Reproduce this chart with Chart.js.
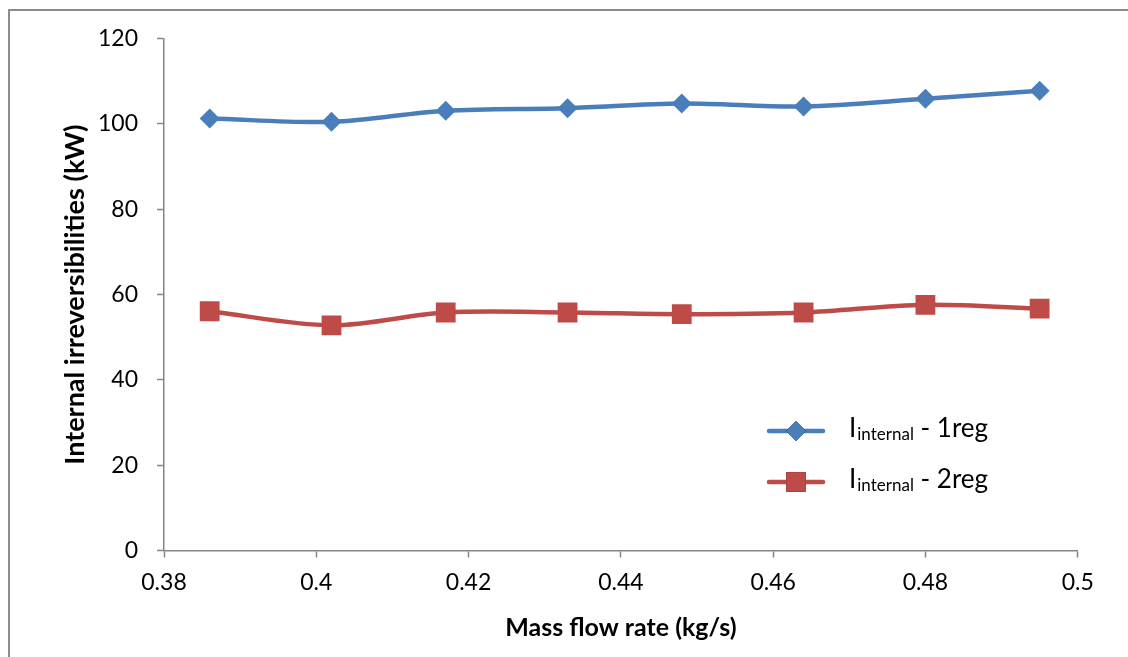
<!DOCTYPE html>
<html>
<head>
<meta charset="utf-8">
<title>Internal irreversibilities vs mass flow rate</title>
<script src="https://cdn.jsdelivr.net/npm/chart.js@4/dist/chart.umd.min.js"></script>
<style>
  html, body { margin: 0; padding: 0; background: #ffffff; }
  #wrap { position: relative; width: 1128px; height: 657px; }
</style>
</head>
<body>
<div id="wrap"><canvas id="chart" width="1128" height="657"></canvas></div>
<script>
// Mass flow rate (kg/s)
const massFlow = [0.386, 0.402, 0.417, 0.433, 0.448, 0.464, 0.480, 0.495];
// Internal irreversibilities (kW), one regenerator
const irr1reg = [101.3, 100.5, 103.1, 103.7, 104.8, 104.1, 105.9, 107.8];
// Internal irreversibilities (kW), two regenerators
const irr2reg = [56.1, 52.8, 55.8, 55.8, 55.4, 55.8, 57.6, 56.7];
// Axis tick values
const xTicks = [0.38, 0.40, 0.42, 0.44, 0.46, 0.48, 0.50];
const yTicks = [0, 20, 40, 60, 80, 100, 120];

const FONT = "Lato, 'Open Sans', 'DejaVu Sans', sans-serif";
const AXIS_GREY = '#868686';
const BLUE = '#4A7EBB';
const RED = '#BE4B48';

const toPoints = (ys) => massFlow.map((x, i) => ({ x, y: ys[i] }));

// Outer frame round the whole chart
const framePlugin = {
  id: 'frame',
  beforeDraw(chart) {
    const ctx = chart.ctx;
    ctx.save();
    ctx.fillStyle = '#ffffff';
    ctx.fillRect(0, 0, chart.width, chart.height);
    ctx.strokeStyle = '#8c8c8c';
    ctx.lineWidth = 2;
    ctx.strokeRect(9, 10, chart.width + 20, chart.height + 20);
    ctx.restore();
  }
};

// Legend with subscripted symbol, drawn inside the plot area
const subLegendPlugin = {
  id: 'subLegend',
  afterDraw(chart) {
    const ctx = chart.ctx;
    const x0 = 769, x1 = 823, textX = 849;
    const rows = [431, 482];
    chart.data.datasets.forEach((ds, i) => {
      const y = rows[i];
      ctx.save();
      ctx.strokeStyle = ds.borderColor;
      ctx.lineWidth = ds.borderWidth;
      ctx.lineCap = 'round';
      ctx.beginPath();
      ctx.moveTo(x0, y);
      ctx.lineTo(x1, y);
      ctx.stroke();
      Chart.helpers.drawPoint(ctx, {
        pointStyle: ds.pointStyle,
        radius: ds.pointRadius,
        borderWidth: 0
      }, (x0 + x1) / 2, y);
      ctx.fillStyle = ds.backgroundColor;
      ctx.fill();
      ctx.restore();

      const parts = ds.legendParts;
      ctx.save();
      ctx.fillStyle = '#000000';
      ctx.textBaseline = 'alphabetic';
      ctx.textAlign = 'left';
      const base = y + 6;
      let tx = textX;
      ctx.font = `26px ${FONT}`;
      ctx.fillText(parts[0], tx, base);
      tx += ctx.measureText(parts[0]).width + 1;
      ctx.font = `17px ${FONT}`;
      ctx.fillText(parts[1], tx, base + 3);
      tx += ctx.measureText(parts[1]).width;
      ctx.font = `26px ${FONT}`;
      ctx.fillText(parts[2], tx, base);
      ctx.restore();
    });
  }
};

new Chart(document.getElementById('chart'), {
  type: 'line',
  data: {
    datasets: [
      {
        label: 'Iinternal - 1reg',
        legendParts: ['I', 'internal', ' - 1reg'],
        data: toPoints(irr1reg),
        borderColor: BLUE,
        backgroundColor: BLUE,
        borderWidth: 4.5,
        pointStyle: 'rectRot',
        pointRadius: 10,
        pointHoverRadius: 10,
        pointBorderWidth: 0,
        tension: 0.33,
        fill: false
      },
      {
        label: 'Iinternal - 2reg',
        legendParts: ['I', 'internal', ' - 2reg'],
        data: toPoints(irr2reg),
        borderColor: RED,
        backgroundColor: RED,
        borderWidth: 4.5,
        pointStyle: 'rect',
        pointRadius: 14,
        pointHoverRadius: 14,
        pointBorderWidth: 0,
        tension: 0.33,
        fill: false
      }
    ]
  },
  options: {
    responsive: false,
    animation: false,
    events: [],
    layout: { padding: { left: 0, right: 50.3, top: 38.7, bottom: 0 } },
    plugins: {
      legend: { display: false },
      tooltip: { enabled: false },
      title: { display: false }
    },
    scales: {
      x: {
        type: 'linear',
        min: 0.38,
        max: 0.5,
        afterBuildTicks: (scale) => { scale.ticks = xTicks.map(v => ({ value: v })); },
        afterFit: (scale) => { scale.height = 657 - 550.5; },
        ticks: {
          color: '#000000',
          font: { family: FONT, size: 23 },
          padding: 11,
          maxRotation: 0,
          callback: (v) => String(+v.toFixed(2))
        },
        grid: {
          display: true,
          drawOnChartArea: false,
          drawTicks: true,
          tickLength: 7,
          tickColor: AXIS_GREY,
          tickWidth: 1.5
        },
        border: { display: true, color: AXIS_GREY, width: 1.5 },
        title: {
          display: true,
          text: 'Mass flow rate (kg/s)',
          color: '#000000',
          font: { family: FONT, size: 25, weight: 'bold' },
          padding: { top: 0, bottom: 14 }
        }
      },
      y: {
        type: 'linear',
        min: 0,
        max: 120,
        afterBuildTicks: (scale) => { scale.ticks = yTicks.map(v => ({ value: v })); },
        afterFit: (scale) => { scale.width = 164; },
        ticks: {
          color: '#000000',
          font: { family: FONT, size: 23 },
          padding: 19
        },
        grid: {
          display: true,
          drawOnChartArea: false,
          drawTicks: true,
          tickLength: 7,
          tickColor: AXIS_GREY,
          tickWidth: 1.5
        },
        border: { display: true, color: AXIS_GREY, width: 1.5 },
        title: {
          display: true,
          text: 'Internal irreversibilities (kW)',
          color: '#000000',
          font: { family: FONT, size: 27, weight: 'bold' },
          padding: { top: 59, bottom: 0 }
        }
      }
    }
  },
  plugins: [framePlugin, subLegendPlugin]
});
</script>
</body>
</html>
